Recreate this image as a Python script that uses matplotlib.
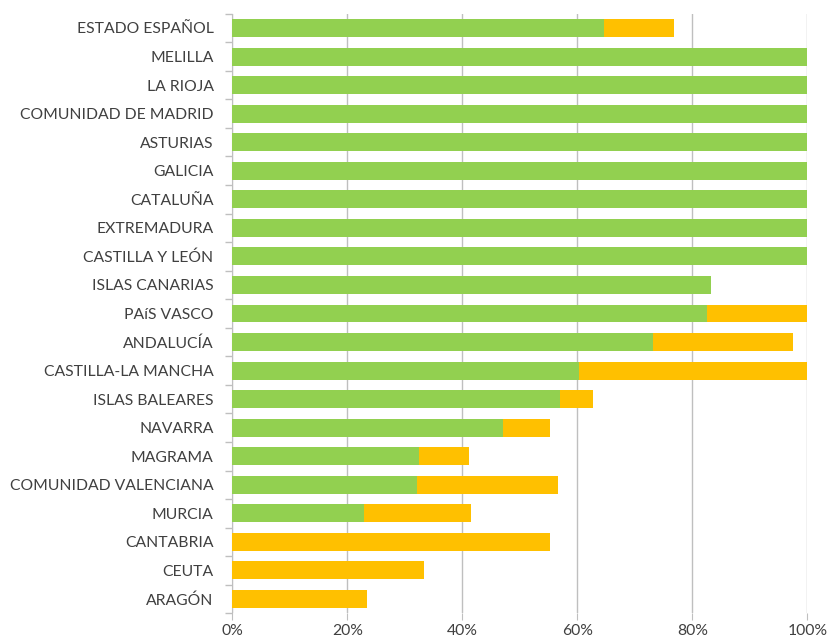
import matplotlib
matplotlib.use("Agg")
import matplotlib.pyplot as plt
from matplotlib.ticker import FixedLocator, PercentFormatter

categories = ["ESTADO ESPAÑOL", "MELILLA", "LA RIOJA", "COMUNIDAD DE MADRID", "ASTURIAS",
              "GALICIA", "CATALUÑA", "EXTREMADURA", "CASTILLA Y LEÓN", "ISLAS CANARIAS",
              "PAíS VASCO", "ANDALUCÍA", "CASTILLA-LA MANCHA", "ISLAS BALEARES", "NAVARRA",
              "MAGRAMA", "COMUNIDAD VALENCIANA", "MURCIA", "CANTABRIA", "CEUTA", "ARAGÓN"]
green_vals = [64.7, 100, 100, 100, 100, 100, 100, 100, 100, 83.2, 82.6, 73.1, 60.3, 57.0,
              47.0, 32.5, 32.1, 22.9, 0, 0, 0]
orange_vals = [12.2, 0, 0, 0, 0, 0, 0, 0, 0, 0, 17.4, 24.5, 39.7, 5.7, 8.3, 8.7, 24.5, 18.6,
               55.3, 33.4, 23.4]

GREEN = "#92D050"
ORANGE = "#FFC000"
GRID = "#BFBFBF"
TEXT = "#404040"

plt.rcParams['font.family'] = ['Lato', 'DejaVu Sans']

fig = plt.figure(figsize=(8.29, 6.44), dpi=100)
ax = fig.add_axes([0.2802, 0.0477, 0.6936, 0.9310])

y = list(range(len(categories)))
ax.barh(y, green_vals, height=0.63, color=GREEN, zorder=3)
ax.barh(y, orange_vals, left=green_vals, height=0.63, color=ORANGE, zorder=3)

ax.set_ylim(len(categories) - 0.5, -0.5)
ax.set_xlim(0, 100)
ax.set_yticks(y)
ax.set_yticklabels(categories, fontsize=11.3, color=TEXT)
ax.tick_params(axis='y', which='major', length=0, pad=13.5)
ax.yaxis.set_minor_locator(FixedLocator([i - 0.5 for i in range(len(categories) + 1)]))
ax.tick_params(axis='y', which='minor', length=5, color=GRID, width=1)

ax.set_xticks([0, 20, 40, 60, 80, 100])
ax.xaxis.set_major_formatter(PercentFormatter(decimals=0))
ax.tick_params(axis='x', length=5, color=GRID, labelsize=11.3, labelcolor=TEXT, pad=3)
ax.grid(axis='x', color=GRID, linewidth=1, zorder=0)

for s in ['top', 'right', 'bottom']:
    ax.spines[s].set_visible(False)
ax.spines['left'].set_color(GRID)

fig.savefig("out.png", dpi=100)
